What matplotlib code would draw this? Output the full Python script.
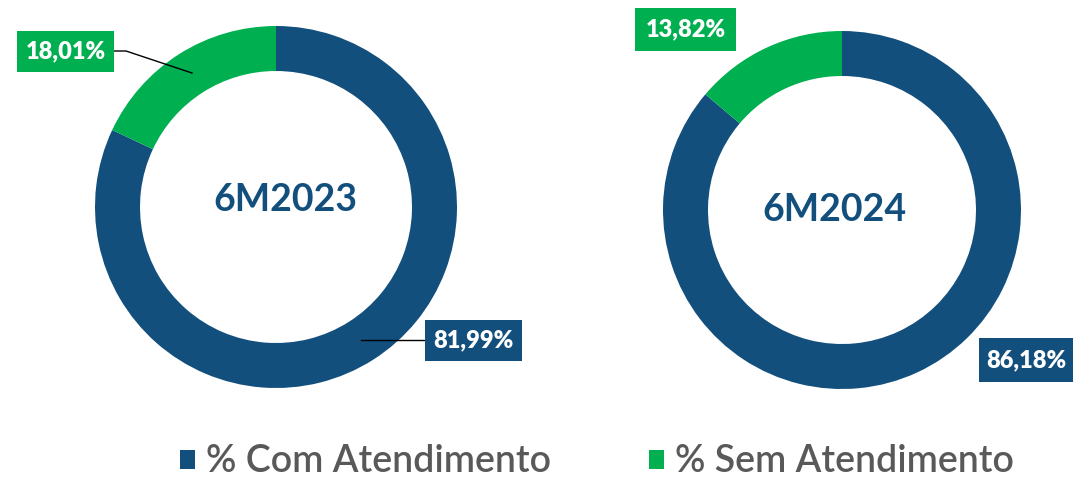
import matplotlib.pyplot as plt
from matplotlib.patches import Rectangle, Patch

# dados
periodos = ['6M2023', '6M2024']
com_atendimento = [81.99, 86.18]
sem_atendimento = [18.01, 13.82]
categorias = ['% Com Atendimento', '% Sem Atendimento']

azul = '#124F7D'
verde = '#00B050'
cinza = '#595959'

W, H = 1074, 478
fig = plt.figure(figsize=(W / 100, H / 100), dpi=100)
ax = fig.add_axes([0, 0, 1, 1])

# centros e raios em pixels (y a partir de baixo)
centros = [(276, H - 207), (842, H - 210)]
raios = [181, 179]
textos_centro = [(285, H - 200), (834, H - 210)]

for i in range(2):
    ax.pie([com_atendimento[i], sem_atendimento[i]], colors=[azul, verde],
           startangle=90, counterclock=False, center=centros[i], radius=raios[i],
           wedgeprops=dict(width=45, linewidth=0))
    ax.text(*textos_centro[i], periodos[i], ha='center', va='center',
            fontsize=27, fontweight='bold', color=azul, family='Lato')

def rotulo(x0, y0, x1, y1, txt, cor):
    ax.add_patch(Rectangle((x0, H - y1), x1 - x0, y1 - y0, facecolor=cor,
                           edgecolor='none', zorder=5))
    ax.text((x0 + x1) / 2, H - (y0 + y1) / 2, txt, ha='center', va='center',
            fontsize=17, fontweight='heavy', color='white', family='Lato',
            zorder=6)

def fmt(v):
    return ('%.2f%%' % v).replace('.', ',')

# rotulos 6M2023
rotulo(17, 31, 114, 72, fmt(sem_atendimento[0]), verde)
ax.plot([114, 126, 192], [H - 51, H - 51, H - 73], color='black', lw=1, zorder=4)
rotulo(425, 320, 522, 361, fmt(com_atendimento[0]), azul)
ax.plot([361, 425], [H - 340, H - 340], color='black', lw=1, zorder=4)

# rotulos 6M2024
rotulo(635, 8, 736, 51, fmt(sem_atendimento[1]), verde)
rotulo(979, 338, 1073, 382, fmt(com_atendimento[1]), azul)

ax.set_xlim(0, W)
ax.set_ylim(0, H)
ax.set_aspect('equal')
ax.axis('off')

handles = [Patch(facecolor=azul), Patch(facecolor=verde)]
leg = ax.legend(handles, categorias, loc='center', bbox_to_anchor=(597 / W, 16 / H),
                ncol=2, frameon=False, handlelength=0.4,
                handleheight=0.4, handletextpad=0.3, columnspacing=2.6,
                prop={'family': 'Lato', 'size': 27, 'weight': 'semibold'})
for t in leg.get_texts():
    t.set_color(cinza)

fig.savefig('out.png', dpi=100)
